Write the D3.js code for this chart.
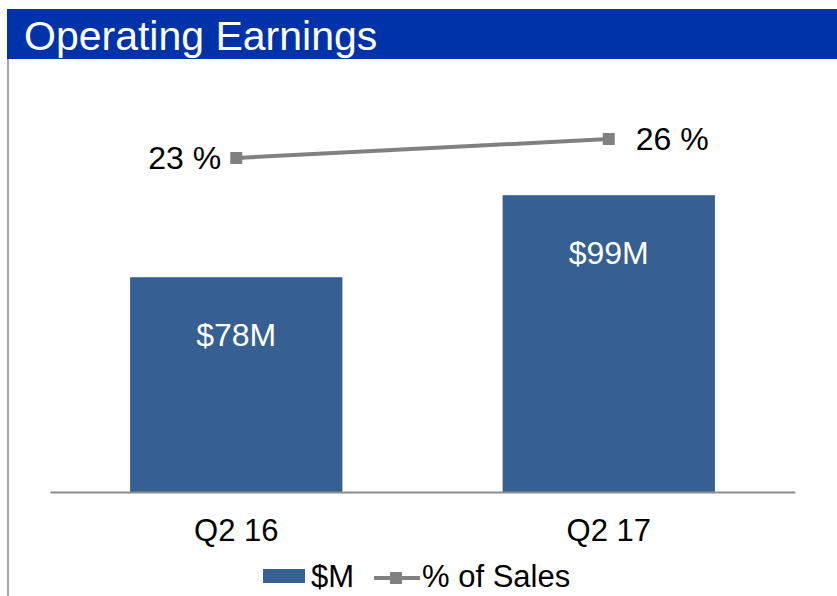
<!DOCTYPE html>
<html>
<head>
<meta charset="utf-8">
<script src="https://cdn.jsdelivr.net/npm/d3@7"></script>
<style>
  body { margin: 0; background: #fff; }
  svg { display: block; font-family: "Liberation Sans", Arial, sans-serif; }
</style>
</head>
<body>
<div class="chart"></div>
<script>
// ----Data----
const quarters = ["Q2 16", "Q2 17"];
const earnings = [78, 99];          // $M
const pctOfSales = [23, 26];        // % of sales
const earningsLabels = ["$78M", "$99M"];
const pctLabels = ["23 %", "26 %"];
const pctLabelSide = ["left", "right"];
const legendNames = ["$M", "% of Sales"];

const barColor = "#366092";
const lineColor = "#808080";

// ----Chart Initialization----
const width = 837, height = 596;

const svg = d3.select(".chart").append("svg")
    .attr("width", width)
    .attr("height", height);

// header band
svg.append("rect")
    .attr("x", 7).attr("y", 9)
    .attr("width", width - 7).attr("height", 50)
    .attr("fill", "#0033a9");

svg.append("text")
    .attr("x", 24).attr("y", 50)
    .attr("fill", "#fff")
    .attr("font-size", 41)
    .text("Operating Earnings");

// left frame line
svg.append("line")
    .attr("x1", 8).attr("x2", 8)
    .attr("y1", 59).attr("y2", height)
    .attr("stroke", "#a6a6a6")
    .attr("stroke-width", 2);

const baseY = 492;

const xScale = d3.scaleBand()
    .domain(quarters)
    .range([50, 795])
    .paddingInner(0.43)
    .paddingOuter(0.215);

// bar axis does not start at zero in the original
const yScale = d3.scaleLinear()
    .domain([23, 120])
    .range([baseY, 113.2]);

const y2Scale = d3.scaleLinear()
    .domain([20, 30])
    .range([177, 113.67]);

const cx = d => xScale(d) + xScale.bandwidth() / 2;

// bars
svg.selectAll(".bar")
    .data(quarters)
    .enter().append("rect")
    .attr("class", "bar")
    .attr("x", d => xScale(d))
    .attr("y", (d, i) => yScale(earnings[i]))
    .attr("width", xScale.bandwidth())
    .attr("height", (d, i) => baseY - yScale(earnings[i]))
    .attr("fill", barColor);

svg.selectAll(".bar-label")
    .data(quarters)
    .enter().append("text")
    .attr("class", "bar-label")
    .attr("x", d => cx(d))
    .attr("y", (d, i) => yScale(earnings[i]) + 69)
    .attr("text-anchor", "middle")
    .attr("fill", "#fff")
    .attr("font-size", 32)
    .text((d, i) => earningsLabels[i]);

// x axis
const xAxis = d3.axisBottom(xScale)
    .tickSizeInner(0)
    .tickSizeOuter(0)
    .tickPadding(27);

const gx = svg.append("g")
    .attr("class", "axis x-axis")
    .attr("transform", `translate(0,${baseY})`)
    .call(xAxis);

gx.select(".domain")
    .attr("stroke", "#8c8c8c")
    .attr("stroke-width", 2);

gx.selectAll("text")
    .attr("font-family", "Liberation Sans, Arial, sans-serif")
    .attr("font-size", 31)
    .attr("fill", "#000");

// % of sales line
const line = d3.line()
    .x((d, i) => cx(quarters[i]))
    .y(d => y2Scale(d));

svg.append("path")
    .datum(pctOfSales)
    .attr("d", line)
    .attr("fill", "none")
    .attr("stroke", lineColor)
    .attr("stroke-width", 4);

svg.selectAll(".marker")
    .data(pctOfSales)
    .enter().append("rect")
    .attr("class", "marker")
    .attr("x", (d, i) => cx(quarters[i]) - 6)
    .attr("y", d => y2Scale(d) - 6)
    .attr("width", 12).attr("height", 12)
    .attr("fill", lineColor);

svg.selectAll(".pct-label")
    .data(pctOfSales)
    .enter().append("text")
    .attr("class", "pct-label")
    .attr("x", (d, i) => pctLabelSide[i] === "left" ? cx(quarters[i]) - 15 : cx(quarters[i]) + 27)
    .attr("y", d => y2Scale(d) + 11)
    .attr("text-anchor", (d, i) => pctLabelSide[i] === "left" ? "end" : "start")
    .attr("font-size", 32)
    .attr("fill", "#000")
    .text((d, i) => pctLabels[i]);

// legend
const legend = svg.append("g").attr("class", "legend");

legend.append("rect")
    .attr("x", 263).attr("y", 569)
    .attr("width", 42).attr("height", 14)
    .attr("fill", barColor);

legend.append("text")
    .attr("x", 311).attr("y", 587)
    .attr("font-size", 31)
    .text(legendNames[0]);

legend.append("line")
    .attr("x1", 374).attr("x2", 420)
    .attr("y1", 578).attr("y2", 578)
    .attr("stroke", lineColor)
    .attr("stroke-width", 4);

legend.append("rect")
    .attr("x", 390).attr("y", 572)
    .attr("width", 12).attr("height", 12)
    .attr("fill", lineColor);

legend.append("text")
    .attr("x", 422).attr("y", 587)
    .attr("font-size", 31)
    .text(legendNames[1]);
</script>
</body>
</html>
